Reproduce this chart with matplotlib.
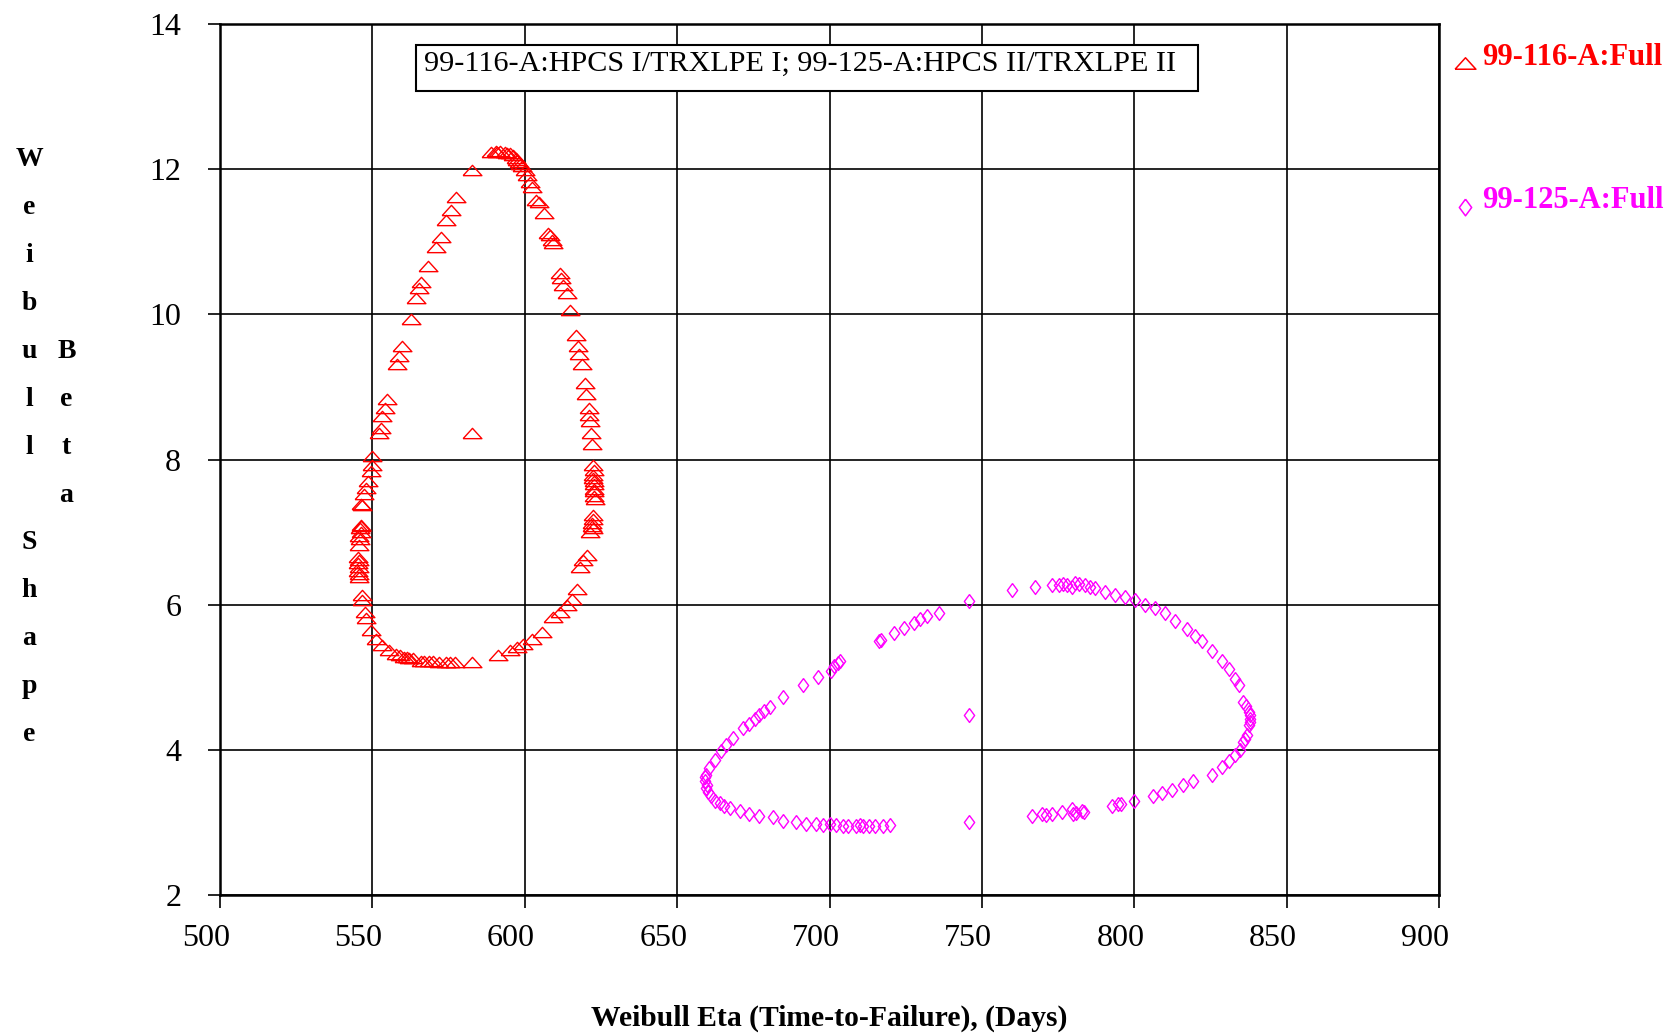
import numpy as np
import matplotlib
matplotlib.use("Agg")
import matplotlib.pyplot as plt
from matplotlib.lines import Line2D
from matplotlib.patches import Rectangle
from matplotlib.transforms import ScaledTranslation

plt.rcParams["font.family"] = ["Liberation Serif", "DejaVu Serif"]

# 99-116-A : Full  (Weibull eta, Weibull beta)
eta_116 = [589.0, 590.5, 591.0, 592.0, 593.5, 594.0, 595.0, 596.0, 597.0, 597.5, 598.0, 598.5,
           599.0, 600.0, 600.8, 601.6, 602.5, 603.8, 604.8, 606.3, 607.5, 608.2, 608.8, 609.3,
           611.5, 612.0, 612.6, 613.7, 614.8,
           616.8, 617.3, 617.9, 618.7, 619.6, 620.1, 620.9, 621.2, 621.4, 621.6, 622.0, 622.5,
           622.5, 622.7, 622.7, 622.8, 622.6, 622.7, 622.6, 622.5,
           623.0, 622.5, 622.0, 621.4, 622.3, 622.2, 622.4, 620.3, 619.2, 618.1, 617.0, 615.4,
           613.7, 611.5, 609.3, 605.5, 602.2, 599.5, 597.3, 595.0, 591.2,
           582.7, 577.0, 575.3, 574.0, 572.0, 570.0, 568.7, 567.0, 565.9, 563.2, 562.0, 561.5,
           560.4, 559.0, 557.7, 555.5, 553.3, 551.1, 549.5, 548.0, 547.6, 546.7, 546.5,
           545.6, 545.4, 545.5, 545.4, 545.5, 545.4, 545.5, 545.6, 545.7, 545.8, 546.0, 546.2,
           546.2, 546.3, 546.2, 546.7, 547.3, 547.8, 548.4, 549.5, 550.0, 550.0, 552.2, 552.7,
           553.3, 554.2, 554.9, 557.9, 558.8, 559.7, 562.6,
           564.3, 565.4, 566.0, 568.1, 570.9, 572.5, 574.2, 575.8, 577.5, 582.7,
           582.7]
beta_116 = [12.24, 12.25, 12.24, 12.25, 12.24, 12.23, 12.22, 12.19, 12.15, 12.12, 12.10, 12.07,
            12.05, 11.99, 11.92, 11.83, 11.75, 11.58, 11.55, 11.39, 11.12, 11.09, 11.03, 10.98,
            10.57, 10.50, 10.40, 10.29, 10.06,
            9.72, 9.56, 9.45, 9.31, 9.06, 8.90, 8.71, 8.62, 8.53, 8.37, 8.21, 7.93,
            7.79, 7.66, 7.56, 7.50, 7.60, 7.70, 7.85, 7.75,
            7.46, 7.23, 7.09, 7.00, 7.05, 7.12, 7.18, 6.68, 6.61, 6.52, 6.22, 6.08,
            5.99, 5.90, 5.83, 5.62, 5.53, 5.46, 5.42, 5.37, 5.30,
            5.21, 5.21, 5.21, 5.21, 5.21, 5.22, 5.22, 5.23, 5.23, 5.26, 5.27, 5.28,
            5.28, 5.30, 5.32, 5.37, 5.44, 5.53, 5.65, 5.81, 5.90, 6.06, 6.13,
            6.38, 6.47, 6.42, 6.57, 6.52, 6.66, 6.62, 6.82, 6.95, 6.91, 7.05, 7.00,
            7.09, 7.10, 7.39, 7.38, 7.52, 7.61, 7.70, 7.84, 7.93, 8.05, 8.37, 8.44,
            8.60, 8.71, 8.83, 9.31, 9.42, 9.56, 9.94,
            10.22, 10.36, 10.45, 10.66, 10.93, 11.07, 11.30, 11.44, 11.62, 11.99,
            8.37]

# 99-125-A : Full
eta_125 = [717.0, 716.1, 721.0, 724.3, 727.6, 729.8, 731.9, 735.8, 745.6,
           703.5, 702.7, 701.6, 700.5, 696.2, 691.2, 684.7, 680.3, 678.5, 677.0, 675.5, 673.7,
           671.6, 668.3, 666.1, 664.4, 662.3, 660.6, 659.5, 659.2, 659.0, 659.8, 659.5, 660.2,
           661.2, 662.5, 663.9, 665.5, 667.2, 670.5, 673.7, 677.0, 681.4, 684.7, 689.0, 692.3,
           695.6, 698.0, 700.0, 702.0, 704.4, 706.0, 708.8, 710.0, 711.0, 713.1, 715.0, 717.5,
           719.9,
           745.6, 745.6,
           759.8, 767.5, 773.0, 775.2, 776.5, 778.0, 779.5, 780.5, 782.0, 783.8, 785.5, 787.1,
           790.4, 793.7, 796.9, 800.2, 803.5, 806.8, 810.1, 813.3, 817.2, 819.9, 822.1, 825.4,
           828.7, 830.9, 833.1, 834.2, 835.8, 836.5, 837.5, 837.8, 838.0, 837.9, 837.5, 837.0,
           836.3, 835.8, 834.7, 833.0, 830.9, 828.7, 825.4, 819.4, 816.1, 812.3, 809.0, 806.2,
           800.0, 795.5, 794.7, 792.6, 783.5, 782.7, 781.0, 780.0, 779.5, 776.3, 773.0, 771.0,
           769.7, 766.4]
beta_125 = [5.52, 5.50, 5.61, 5.68, 5.75, 5.80, 5.84, 5.89, 6.05,
            5.22, 5.20, 5.16, 5.09, 5.00, 4.89, 4.73, 4.59, 4.53, 4.48, 4.42, 4.36,
            4.30, 4.16, 4.07, 3.98, 3.86, 3.75, 3.66, 3.62, 3.57, 3.52, 3.48, 3.42,
            3.36, 3.30, 3.27, 3.23, 3.20, 3.16, 3.11, 3.09, 3.07, 3.02, 3.00, 2.98,
            2.98, 2.97, 2.98, 2.96, 2.95, 2.95, 2.95, 2.96, 2.95, 2.95, 2.95, 2.95,
            2.97,
            4.48, 3.00,
            6.20, 6.25, 6.27, 6.27, 6.28, 6.27, 6.25, 6.30, 6.28, 6.27, 6.25, 6.23,
            6.18, 6.14, 6.11, 6.07, 6.00, 5.95, 5.89, 5.77, 5.66, 5.57, 5.50, 5.36,
            5.23, 5.11, 4.98, 4.89, 4.66, 4.60, 4.52, 4.48, 4.43, 4.38, 4.34, 4.20,
            4.15, 4.11, 4.00, 3.93, 3.84, 3.77, 3.66, 3.57, 3.52, 3.45, 3.41, 3.36,
            3.30, 3.26, 3.25, 3.23, 3.15, 3.16, 3.13, 3.11, 3.18, 3.14, 3.11, 3.10,
            3.11, 3.09]

x_ticks = [500, 550, 600, 650, 700, 750, 800, 850, 900]
y_ticks = [2, 4, 6, 8, 10, 12, 14]

RED = "#FF0000"
MAG = "#FF00FF"
tri = [(-1, -0.55), (0, 0.55), (1, -0.55), (-1, -0.55)]
dia = [(0, 1), (0.74, 0), (0, -1), (-0.74, 0), (0, 1)]

fig = plt.figure(figsize=(16.81, 10.36), dpi=100)
ax = fig.add_axes([0.1309, 0.1361, 0.7252, 0.8407])

ax.plot(eta_116, beta_116, linestyle="none", marker=tri, markersize=13.5,
        markerfacecolor="none", markeredgecolor=RED, markeredgewidth=1.0, zorder=3)
ax.plot(eta_125, beta_125, linestyle="none", marker=dia, markersize=10,
        markerfacecolor="none", markeredgecolor=MAG, markeredgewidth=1.0, zorder=3)

ax.set_xlim(500, 900)
ax.set_ylim(2, 14)
ax.set_xticks(x_ticks)
ax.set_yticks(y_ticks)
ax.grid(True, color="black", linewidth=1.2)
ax.set_axisbelow(True)
for s in ax.spines.values():
    s.set_linewidth(1.8)
    s.set_color("black")
ax.tick_params(axis="both", direction="out", length=9, width=1.2, labelsize=23)
ax.tick_params(axis="x", pad=12)
ax.tick_params(axis="y", pad=19)

# x tick labels sit a little left of their ticks in the original
shift = ScaledTranslation(-0.14, 0, fig.dpi_scale_trans)
for lab in ax.get_xticklabels():
    lab.set_transform(lab.get_transform() + shift)

# header box
fig.add_artist(Rectangle((0.2475, 0.9122), 0.4652, 0.0444, transform=fig.transFigure,
                         facecolor="white", edgecolor="black", linewidth=1.5, zorder=5))
fig.text(0.2522, 0.9315, "99-116-A:HPCS I/TRXLPE I; 99-125-A:HPCS II/TRXLPE II",
         fontsize=21.7, va="baseline", ha="left", zorder=6)

# legend on the right
fig.add_artist(Line2D([0.8715], [1 - 63 / 1036], transform=fig.transFigure, linestyle="none",
                      marker=tri, markersize=15, markerfacecolor="none",
                      markeredgecolor=RED, markeredgewidth=1.1))
fig.text(0.8815, 1 - 65 / 1036, "99-116-A:Full", color=RED, fontsize=22,
         fontweight="bold", va="baseline")
fig.add_artist(Line2D([0.8718], [1 - 206.5 / 1036], transform=fig.transFigure, linestyle="none",
                      marker=dia, markersize=12, markerfacecolor="none",
                      markeredgecolor=MAG, markeredgewidth=1.1))
fig.text(0.8815, 1 - 208 / 1036, "99-125-A:Full", color=MAG, fontsize=22,
         fontweight="bold", va="baseline")

# stacked y label
ylab1 = "Weibull Shape"
ylab2 = "Beta"
pitch = 47.9
for i, ch in enumerate(ylab1):
    fig.text(29 / 1681, 1 - (166.2 + i * pitch) / 1036, ch, fontsize=20,
             fontweight="bold", ha="center", va="baseline")
for i, ch in enumerate(ylab2):
    fig.text(66.5 / 1681, 1 - (166.2 + (i + 4) * pitch) / 1036, ch, fontsize=20,
             fontweight="bold", ha="center", va="baseline")

fig.text(829 / 1681, 1 - 1026 / 1036, "Weibull Eta (Time-to-Failure), (Days)",
         fontsize=21.3, fontweight="bold", ha="center", va="baseline")

fig.savefig("out.png", dpi=100, facecolor="white")
